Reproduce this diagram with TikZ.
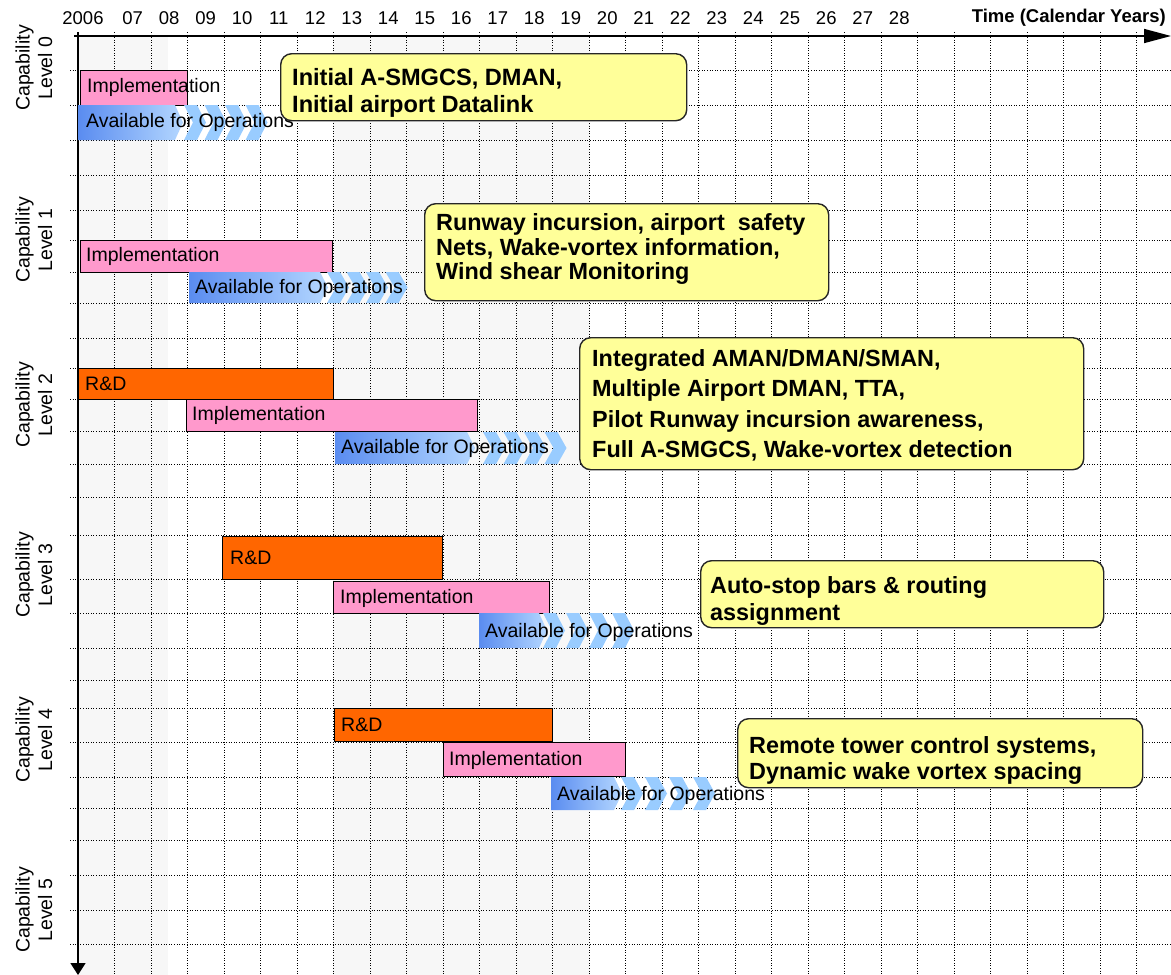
\documentclass[tikz,border=0pt]{standalone}
\usepackage{fontspec}
\setmainfont{Liberation Sans}
\usetikzlibrary{arrows.meta}

\definecolor{implpink}{HTML}{FF99CC}
\definecolor{rdorange}{HTML}{FF6600}
\definecolor{noteyellow}{HTML}{FFFF99}
\definecolor{availdark}{HTML}{5A8CF0}
\definecolor{availlight}{HTML}{B4D7FF}
\definecolor{chevblue}{HTML}{99CCFF}
\definecolor{bandgray}{HTML}{F7F7F7}

% operations bar: gradient arrow body followed by four chevrons
% #1 start x, #2 body end x, #3 top y, #4 bottom y, #5 first chevron x, #6 chevron pitch
\newcommand\opsbar[6]{%
  \pgfmathsetmacro\ymid{(#3+#4)/2}%
  \shade[left color=availdark, right color=availlight]
    (#1,#3) -- (#2,#3) -- ({#2+8},\ymid) -- (#2,#4) -- (#1,#4) -- cycle;
  \foreach \k in {0,1,2,3}{%
    \pgfmathsetmacro\cx{#5+#6*\k}%
    \fill[chevblue] (\cx,#3) -- ({\cx+13},#3) -- ({\cx+22},\ymid)
      -- ({\cx+13},#4) -- (\cx,#4) -- ({\cx+9},\ymid) -- cycle;
  }%
}

\tikzset{
  gridline/.style={line width=1pt, dash pattern=on 1pt off 1.6pt},
  axisline/.style={line width=1.6pt},
  implbar/.style={draw=black, line width=1.2pt, fill=implpink, anchor=north west, inner sep=0pt},
  rdbar/.style={draw=black, line width=1.2pt, fill=rdorange, anchor=north west, inner sep=0pt},
  bartext/.style={anchor=west, inner sep=0pt, font=\fontsize{19.5}{22}\selectfont},
  yearlabel/.style={inner sep=0pt, font=\fontsize{18.5}{22}\selectfont},
  levellabel/.style={rotate=90, align=center, inner sep=0pt, font=\fontsize{19.5}{22.5}\selectfont},
  notebox/.style={draw=black!85, line width=1.4pt, fill=noteyellow, rounded corners=11pt,
    anchor=north west, inner sep=0pt},
  notetext/.style={anchor=north west, align=left, inner sep=0pt},
}

\begin{document}
\begin{tikzpicture}[x=1pt, y=-1pt]
\useasboundingbox (0,0) rectangle (1171,975);
\fill[white] (0,0) rectangle (1171,975);

% light background bands
\fill[bandgray] (78,36) rectangle (168,975);
\fill[bandgray] (333,36) rectangle (590,975);

% dotted grid
\foreach \k in {1,...,29}{
  \draw[gridline] ({78+36.5*\k},32) -- ({78+36.5*\k},975);
}
\foreach \y in {70,105,140,175,210,240,272,303,338,368,399,431,464,497,535,579,613,648,680,708,742,777,808,840,875,910,944}{
  \draw[gridline] (70,\y) -- (1171,\y);
}

% axes
\coordinate (origin) at (78,36);
\coordinate (timeend) at (1171,36);
\coordinate (levelend) at (78,975);
\coordinate (axtop) at (78,32);
\coordinate (axleft) at (74,36);
\draw[axisline] (axleft) -- (origin);
\draw[axisline, -{Triangle[length=27pt,width=14pt]}] (origin) -- (timeend);
\draw[axisline, -{Triangle[length=12pt,width=15pt]}] (axtop) -- (levelend);

% year labels
\node[yearlabel] (y2006) at (83,18) {2006};
\foreach \yr [count=\k] in {07,08,09,10,11,12,13,14,15,16,17,18,19,20,21,22,23,24,25,26,27,28}{
  \node[yearlabel] (y\yr) at ({78+36.5*(\k+0.5)},18) {\yr};
}
\node[yearlabel, anchor=east, font=\bfseries\fontsize{18.5}{22}\selectfont] (timelabel) at (1166,18) {Time (Calendar Years)};

% capability levels
\node[levellabel] (lev0) at (34,68) {Capability\\Level 0};
\node[levellabel] (lev1) at (34,240) {Capability\\Level 1};
\node[levellabel] (lev2) at (34,405) {Capability\\Level 2};
\node[levellabel] (lev3) at (34,575) {Capability\\Level 3};
\node[levellabel] (lev4) at (34,740) {Capability\\Level 4};
\node[levellabel] (lev5) at (34,910) {Capability\\Level 5};

% ---- level 0
\node[implbar, minimum width=107, minimum height=35] (imp0) at (80,70) {};
\opsbar{78}{175}{105}{140}{184}{20.5}
\node[bartext] (imp0t) at (87,87) {Implementation};
\node[bartext] (ops0t) at (86,122.5) {Available for Operations};

% ---- level 1
\node[implbar, minimum width=252, minimum height=32] (imp1) at (80,240) {};
\opsbar{189}{320}{272}{303}{327}{19.5}
\node[bartext] (imp1t) at (86,256) {Implementation};
\node[bartext] (ops1t) at (195,288) {Available for Operations};

% ---- level 2
\node[rdbar, minimum width=255, minimum height=31] (rd2) at (78,368) {};
\node[implbar, minimum width=291, minimum height=32] (imp2) at (186,399) {};
\opsbar{335}{467}{432}{464}{483}{20.5}
\node[bartext] (rd2t) at (85,383.5) {R\&D};
\node[bartext] (imp2t) at (192,415) {Implementation};
\node[bartext] (ops2t) at (341,448) {Available for Operations};

% ---- level 3
\node[rdbar, minimum width=220, minimum height=43] (rd3) at (222,536) {};
\node[implbar, minimum width=216, minimum height=32] (imp3) at (333,581) {};
\opsbar{479}{539}{613}{648}{543}{23}
\node[bartext] (rd3t) at (230,558) {R\&D};
\node[bartext] (imp3t) at (340,598) {Implementation};
\node[bartext] (ops3t) at (485,632) {Available for Operations};

% ---- level 4
\node[rdbar, minimum width=218, minimum height=33] (rd4) at (334,708) {};
\node[implbar, minimum width=182, minimum height=34] (imp4) at (443,742) {};
\opsbar{551}{614}{777}{810}{621}{24}
\node[bartext] (rd4t) at (341,725) {R\&D};
\node[bartext] (imp4t) at (449,760) {Implementation};
\node[bartext] (ops4t) at (557,795) {Available for Operations};

% capability notes
\node[notebox, minimum width=406, minimum height=67] (note0) at (280,53) {};
\node[notetext, font=\bfseries\fontsize{23.6}{27}\selectfont] (note0t) at (292,68.5)
  {Initial A-SMGCS, DMAN,\\Initial airport Datalink};

\node[notebox, minimum width=404, minimum height=97] (note1) at (424,203) {};
\node[notetext, font=\bfseries\fontsize{23.4}{24.5}\selectfont] (note1t) at (436,213.5)
  {Runway incursion, airport\ \ safety\\Nets, Wake-vortex information,\\Wind shear Monitoring};

\node[notebox, minimum width=504, minimum height=132] (note2) at (579,337) {};
\node[notetext, font=\bfseries\fontsize{23.4}{30.3}\selectfont] (note2t) at (592,349.5)
  {Integrated AMAN/DMAN/SMAN,\\Multiple Airport DMAN, TTA,\\Pilot Runway incursion awareness,\\Full A-SMGCS, Wake-vortex detection};

\node[notebox, minimum width=403, minimum height=67] (note3) at (700,560) {};
\node[notetext, font=\bfseries\fontsize{23.4}{27}\selectfont] (note3t) at (710,576.5)
  {Auto-stop bars \& routing\\assignment};

\node[notebox, minimum width=405, minimum height=69] (note4) at (737,718) {};
\node[notetext, font=\bfseries\fontsize{23.4}{26}\selectfont] (note4t) at (749,736.5)
  {Remote tower control systems,\\Dynamic wake vortex spacing};

\end{tikzpicture}
\end{document}
